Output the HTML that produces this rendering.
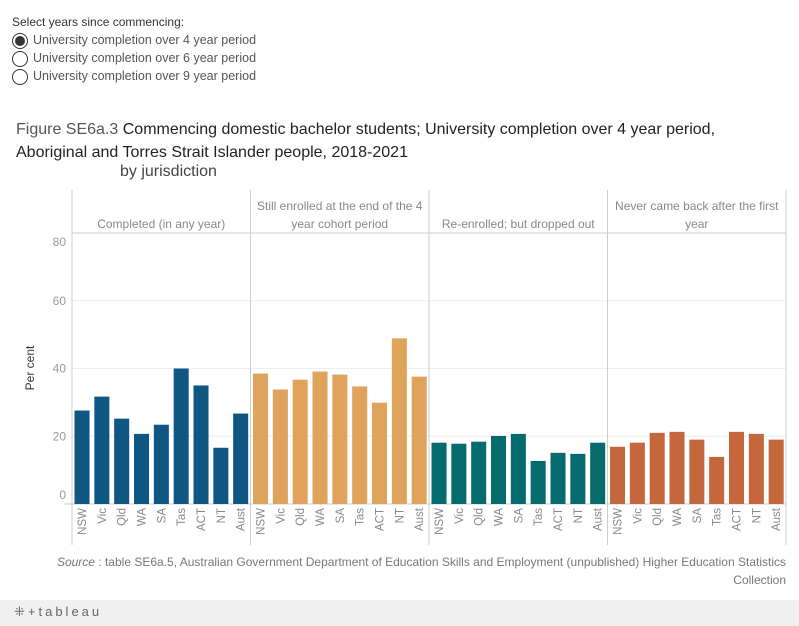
<!DOCTYPE html>
<html><head><meta charset="utf-8"><style>
body{margin:0;width:799px;height:626px;position:relative;background:#fff;font-family:"Liberation Sans",sans-serif;overflow:hidden}
.abs{position:absolute;white-space:nowrap}
.radio{position:absolute;left:12px;width:16px;height:16px;border:1px solid #333;border-radius:50%;box-sizing:border-box}
.opt{font-size:12.5px;color:#555;left:33px}
</style></head><body>
<div class="abs" style="left:12px;top:15px;font-size:12px;color:#333">Select years since commencing:</div>
<div class="radio" style="top:33px"><div style="position:absolute;left:2px;top:2px;width:10px;height:10px;border-radius:50%;background:#333"></div></div>
<div class="abs opt" style="top:33px">University completion over 4 year period</div>
<div class="radio" style="top:51px"></div>
<div class="abs opt" style="top:51px">University completion over 6 year period</div>
<div class="radio" style="top:69px"></div>
<div class="abs opt" style="top:69px">University completion over 9 year period</div>
<div class="abs" style="left:16px;top:118px;font-size:16px;color:#333;line-height:23px">
<span style="color:#555">Figure SE6a.3 </span><b style="font-weight:normal;color:#222">Commencing domestic bachelor students; University completion over 4 year period,</b><br><span style="color:#222">Aboriginal and Torres Strait Islander people, 2018-2021</span></div>
<div class="abs" style="left:120px;top:163px;font-size:16px;color:#444">by jurisdiction</div>
<svg id="chart" class="abs" style="left:0;top:0" width="799" height="545"></svg>
<div class="abs" style="right:13px;top:553px;font-size:12px;color:#777;text-align:right;line-height:18px"><i>Source</i> : table SE6a.5, Australian Government Department of Education Skills and Employment (unpublished) Higher Education Statistics<br>Collection</div>
<div class="abs" style="left:0;top:600px;width:799px;height:26px;background:#f0f0f0"></div>
<div class="abs" style="left:14px;top:604px;font-size:13px;color:#666;letter-spacing:3px">⁜+tableau</div>
<script>
const panels=["Completed (in any year)","Still enrolled at the end of the 4 year cohort period","Re-enrolled; but dropped out","Never came back after the first year"];
const states=["NSW","Vic","Qld","WA","SA","Tas","ACT","NT","Aust"];
const completed=[27.6,31.7,25.2,20.7,23.4,40,35,16.6,26.7];
const stillEnrolled=[38.5,33.8,36.7,39.1,38.2,34.7,29.9,48.9,37.6];
const reEnrolled=[18.1,17.8,18.4,20.1,20.7,12.7,15.1,14.8,18.1];
const neverBack=[16.9,18.1,21,21.3,19,13.9,21.3,20.7,19];
const yTicks=[0,20,40,60,80];
const series=[completed,stillEnrolled,reEnrolled,neverBack];
const colors=["#0f5783","#dfa35c","#066b6f","#c4673d"];
const svg=document.getElementById('chart');const NS='http://www.w3.org/2000/svg';
const x0=72,pw=178.5,plotTop=233,base=504,ymax=80;
const y=v=>base-(v/ymax)*(base-plotTop);
function el(t,a,txt){const e=document.createElementNS(NS,t);for(const k in a)e.setAttribute(k,a[k]);if(txt!==undefined)e.textContent=txt;svg.appendChild(e);return e;}
yTicks.forEach(t=>{
 if(t>0&&t<80){const g=el('line',{x1:x0,x2:x0+4*pw,y1:y(t),y2:y(t),stroke:'#eee'});}
 const off=t===80?13:(t===0?-5:4);
 const l=el('text',{x:66,y:y(t)+off,'text-anchor':'end','font-size':12,fill:'#999'},t);
 
 
});
const yt=el('text',{transform:'translate(34,368) rotate(-90)','text-anchor':'middle','font-size':12,fill:'#333'},'Per cent');


el('line',{x1:x0,x2:x0+4*pw,y1:plotTop,y2:plotTop,stroke:'#ccc'});
el('line',{x1:x0-8,x2:x0+4*pw,y1:base,y2:base,stroke:'#ccc'});
for(let p=0;p<=4;p++)el('line',{x1:x0+p*pw,x2:x0+p*pw,y1:190,y2:545,stroke:'#ccc'});
const hdr=[["Completed (in any year)"],["Still enrolled at the end of the 4","year cohort period"],["Re-enrolled; but dropped out"],["Never came back after the first","year"]];
panels.forEach((name,p)=>{
 const cx=x0+p*pw+pw/2;const lines=hdr[p];
 lines.forEach((ln,i)=>{const h=el('text',{x:cx,y:(lines.length==1?229:211+i*18)-1,'text-anchor':'middle','font-size':12,fill:'#888'},ln);
 
 });
 const bw=pw/9;
 series[p].forEach((v,i)=>{
  const bx=x0+p*pw+i*bw+2.5;
  const r=el('rect',{x:bx,y:y(v),width:bw-4.8,height:base-y(v),fill:colors[p]});
  
  
  const lx=bx+(bw-4.8)/2+4;
  const t=el('text',{transform:`translate(${lx},508) rotate(-90)`,'text-anchor':'end','font-size':11.5,fill:'#888'},states[i]);
  
  
 });
});
</script>
</body></html>
